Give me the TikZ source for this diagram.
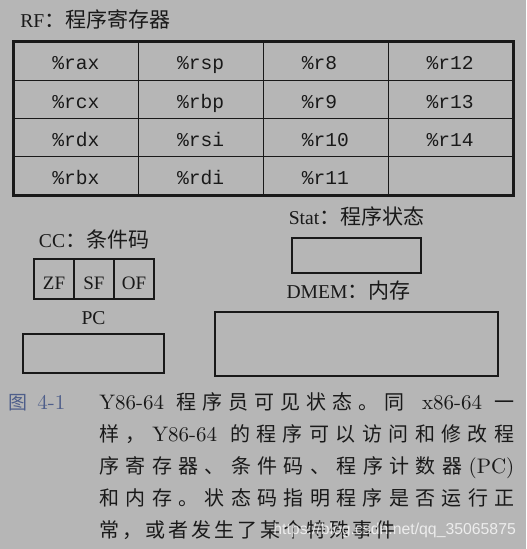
\documentclass[tikz,border=0pt]{standalone}
\usepackage{fontspec}
\newfontfamily\cjk{Noto Sans CJK SC}
\newfontfamily\tnr{Liberation Serif}
\newfontfamily\mono{Liberation Mono}
\newfontfamily\websans{Liberation Sans}
\usetikzlibrary{positioning}
\definecolor{bg}{RGB}{182,182,182}
\definecolor{ink}{RGB}{25,25,25}
\definecolor{figblue}{RGB}{78,94,138}
\newcommand\zh[1]{{\cjk\fontsize{10.5pt}{12pt}\selectfont #1}}
\newcommand\cjkspread[1]{{\cjk\fontsize{10pt}{12pt}\selectfont\cjkloop#1\relax}}
\def\cjkloop#1{\ifx#1\relax\else#1\hskip 1.5pt plus 1pt\relax\expandafter\cjkloop\fi}
\tikzset{regcell/.style = {draw=ink, line width=0.7pt, minimum width=62.375pt, minimum height=19.125pt, inner sep=0pt,
           text width=24pt, align=left, text height=8.9pt, text depth=0pt, font=\mono\fontsize{9.8pt}{11pt}\selectfont, text=ink},
         flagcell/.style = {draw=ink, line width=0.8pt, minimum width=20pt, minimum height=20pt, inner sep=0pt,
           text height=10pt, text depth=0pt, font=\tnr\fontsize{9.5pt}{11pt}\selectfont, text=ink},
         box/.style = {draw=ink, line width=0.8pt, inner sep=0pt},
         title/.style = {inner sep=0pt, font=\tnr\fontsize{9.8pt}{11pt}\selectfont, text=ink},
         capline/.style = {anchor=base west, inner sep=0pt, font=\fontsize{10.5pt}{12pt}\selectfont, text=ink}}
\begin{document}
\begin{tikzpicture}[x=0.5pt, y=-0.5pt]
                    \fill[bg] (0,0) rectangle (526,549);
                    % register file
                    \node [title, anchor=base west] (rf) at (20,28) {RF\zh{：程序寄存器}};
                    \foreach \reg [count=\i from 0] in {rax,rcx,rdx,rbx,rsp,rbp,rsi,rdi,r8,r9,r10,r11,r12,r13,r14} {
                        \pgfmathtruncatemacro\col{\i/4}
                        \pgfmathtruncatemacro\row{mod(\i,4)}
                        \node [regcell] (\reg) at (76.4+124.75*\col, 61.1+38.25*\row) {\%\reg};
                    }
                    \node [regcell] (spare) at (450.6,175.9) {};
                    \draw [ink, line width=1.2pt] (rax.north west) rectangle (spare.south east);
                    % condition codes
                    \foreach \f [count=\i from 0] in {ZF,SF,OF} {
                        \node [flagcell] (\f) at (54+40*\i,279) {\f};
                    }
                    \node [title, above=4.3pt of SF] (cc) {CC\zh{：条件码}};
                    % pc, stat, memory
                    \node [box, minimum width=70.5pt, minimum height=19.5pt] (pc) at (93.5,353.5) {};
                    \node [title, above=4pt of pc] (pclabel) {PC};
                    \node [box, minimum width=64.5pt, minimum height=17.5pt] (stat) at (356.5,255.5) {};
                    \node [title, above=5.3pt of stat] (statlabel) {Stat\zh{：程序状态}};
                    \node [box, minimum width=141.5pt, minimum height=32pt] (dmem) at (356.5,344) {};
                    \node [title, above=5.3pt of dmem, xshift=-4pt] (dmemlabel) {DMEM\zh{：内存}};
                    % caption
                    \node [capline, text=figblue] (fig) at (8,409) {{\cjk\fontsize{9.5pt}{11pt}\selectfont 图}\hspace{5pt}4-1};
                    \node [capline] (cap1) at (99,409) {\makebox[207.5pt][s]{Y86-64 \cjkspread{程序员可见状态。同} x86-64 \cjkspread{一}\unskip}};
                    \node [capline] (cap2) at (99,441) {\makebox[207.5pt][s]{\cjkspread{样，}Y86-64 \cjkspread{的程序可以访问和修改程}\unskip}};
                    \node [capline] (cap3) at (99,473) {\makebox[207.5pt][s]{\cjkspread{序寄存器、条件码、程序计数器}(PC)}};
                    \node [capline] (cap4) at (99,505) {\makebox[207.5pt][s]{\cjkspread{和内存。状态码指明程序是否运行正}\unskip}};
                    \node [capline] (cap5) at (99,537) {\cjkspread{常，或者发生了某个特殊事件}\unskip};
                    \node [anchor=base west, inner sep=0pt, text=white, opacity=0.75, font=\websans\fontsize{7.9pt}{9pt}\selectfont] (mark) at (273,534) {https://blog.csdn.net/qq\_35065875};
                \end{tikzpicture}
\end{document}
